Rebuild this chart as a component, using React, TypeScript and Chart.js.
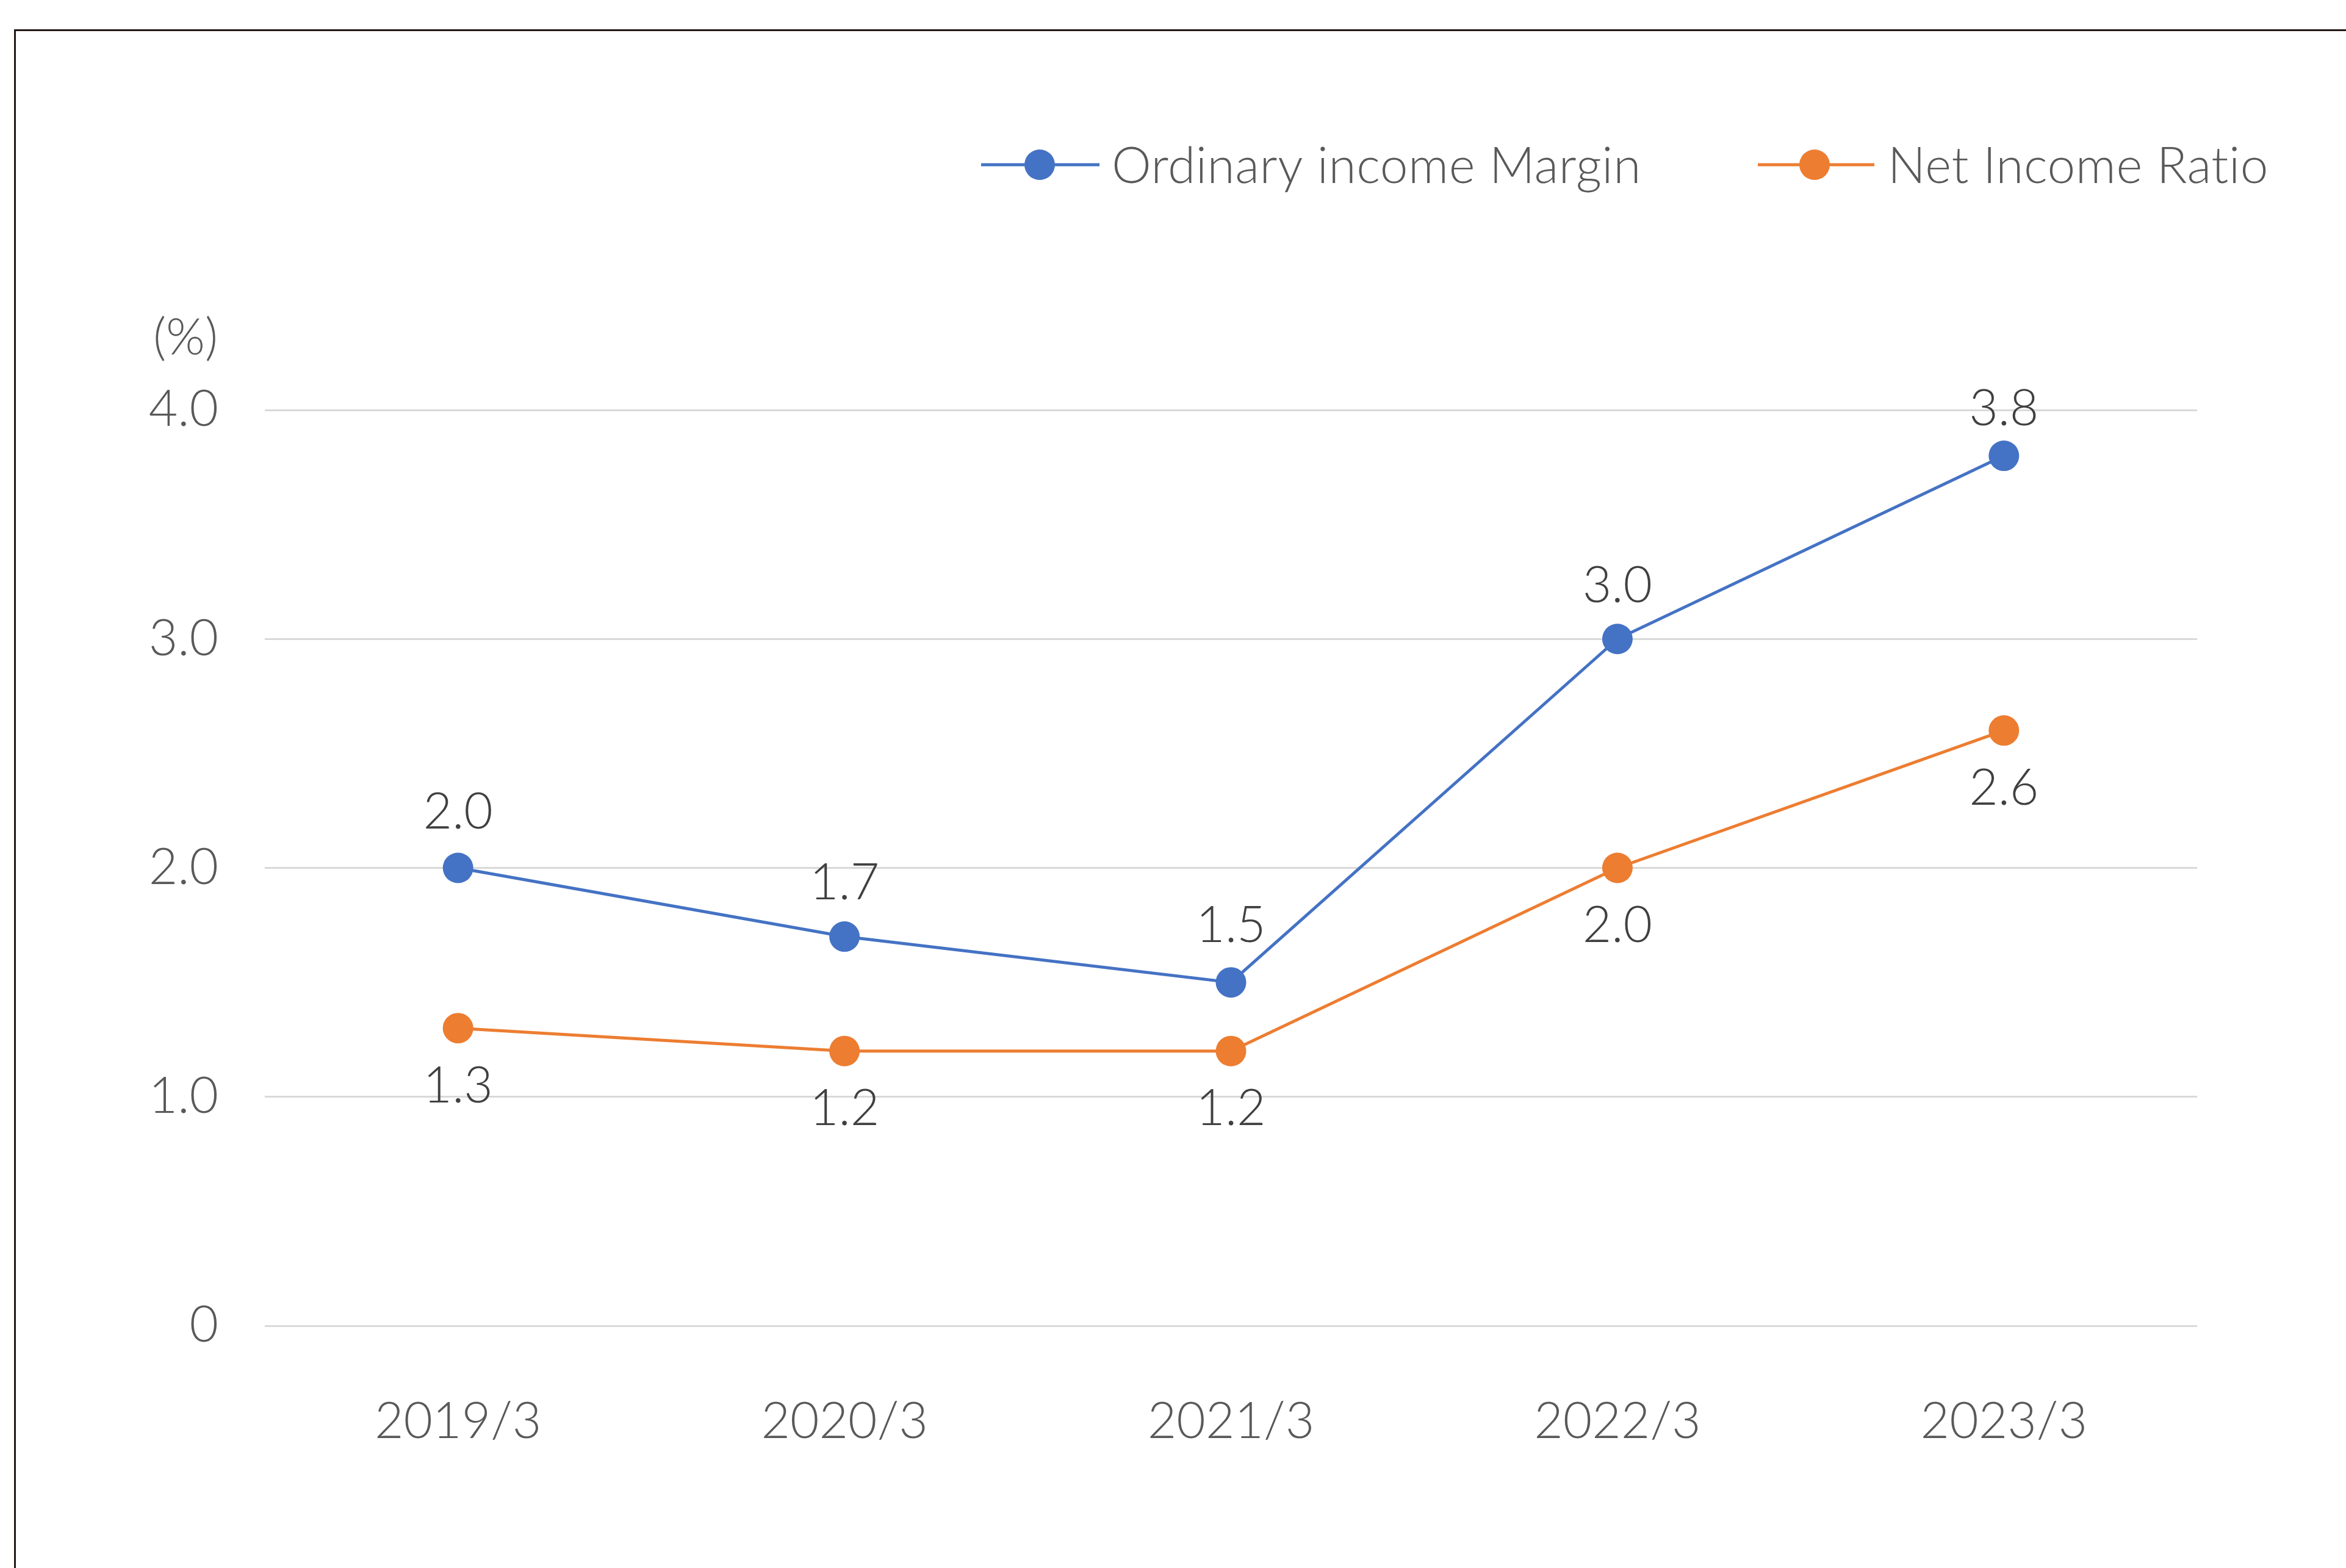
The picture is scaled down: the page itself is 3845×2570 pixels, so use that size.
import React, { useEffect, useRef } from "react";
import { Chart, registerables } from "chart.js";

Chart.register(...registerables);

const categories = ["2019/3", "2020/3", "2021/3", "2022/3", "2023/3"];
const ordinaryIncomeMargin = [2.0, 1.7, 1.5, 3.0, 3.8];
const netIncomeRatio = [1.3, 1.2, 1.2, 2.0, 2.6];
const seriesNames = ["Ordinary income Margin", "Net Income Ratio"];
const unitLabel = "(%)";
const yMin = 0;
const yMax = 4;
const yStep = 1;

const W = 3845;
const H = 2570;
const FONT = 'Lato, "Noto Sans", sans-serif';
const FS = 82;
const BLUE = "#4472C4";
const ORANGE = "#ED7D31";
const TEXT = "#595959";
const LABEL = "#404040";
// vertical label offsets (px from point centre), per series
const LABEL_OFFSETS = [
  [-91, -88, -93, -87, -76],
  [95, 95, 95, 95, 95],
];

const decorPlugin = {
  id: "decor",
  beforeDraw(chart: any) {
    const ctx = chart.ctx;
    ctx.save();
    ctx.fillStyle = "#ffffff";
    ctx.fillRect(0, 0, W, H);
    ctx.strokeStyle = "#231815";
    ctx.lineWidth = 3;
    ctx.beginPath();
    ctx.moveTo(24.5, H);
    ctx.lineTo(24.5, 49.5);
    ctx.lineTo(W, 49.5);
    ctx.stroke();
    ctx.restore();
  },
  afterDraw(chart: any) {
    const ctx = chart.ctx;
    ctx.save();
    ctx.font = `300 ${FS}px ${FONT}`;
    ctx.fillStyle = TEXT;
    ctx.textAlign = "center";
    ctx.textBaseline = "middle";
    ctx.fillText(unitLabel, 304, 555);

    const items = [
      { x0: 1608, x1: 1802, cx: 1704, tx: 1822, color: BLUE, name: seriesNames[0] },
      { x0: 2881, x1: 3072, cx: 2974, tx: 3094, color: ORANGE, name: seriesNames[1] },
    ];
    const ly = 270;
    for (const it of items) {
      ctx.strokeStyle = it.color;
      ctx.lineWidth = 5;
      ctx.beginPath();
      ctx.moveTo(it.x0, ly);
      ctx.lineTo(it.x1, ly);
      ctx.stroke();
      ctx.fillStyle = it.color;
      ctx.beginPath();
      ctx.arc(it.cx, ly, 25, 0, Math.PI * 2);
      ctx.fill();
      ctx.fillStyle = TEXT;
      ctx.textAlign = "left";
      ctx.textBaseline = "middle";
      ctx.font = `300 ${FS}px ${FONT}`;
      try {
        (ctx as any).letterSpacing = "0.6px";
      } catch (e) {}
      ctx.fillText(it.name, it.tx, ly + 4);
      try {
        (ctx as any).letterSpacing = "0px";
      } catch (e) {}
    }
    ctx.restore();
  },
  afterDatasetsDraw(chart: any) {
    const ctx = chart.ctx;
    ctx.save();
    ctx.font = `300 ${FS}px ${FONT}`;
    ctx.fillStyle = LABEL;
    ctx.textAlign = "center";
    ctx.textBaseline = "middle";
    chart.data.datasets.forEach((ds: any, di: number) => {
      const meta = chart.getDatasetMeta(di);
      meta.data.forEach((pt: any, i: number) => {
        const v = ds.data[i];
        ctx.fillText(v.toFixed(1), pt.x, pt.y + LABEL_OFFSETS[di][i]);
      });
    });
    ctx.restore();
  },
};

export default function App() {
  const ref = useRef<HTMLCanvasElement>(null);
  useEffect(() => {
    if (!ref.current) return;
    const chart = new Chart(ref.current, {
      type: "line",
      data: {
        labels: categories,
        datasets: [
          {
            label: seriesNames[0],
            data: ordinaryIncomeMargin,
            borderColor: BLUE,
            backgroundColor: BLUE,
            borderWidth: 5,
            pointRadius: 25,
            pointBorderWidth: 0,
            pointBackgroundColor: BLUE,
            tension: 0,
          },
          {
            label: seriesNames[1],
            data: netIncomeRatio,
            borderColor: ORANGE,
            backgroundColor: ORANGE,
            borderWidth: 5,
            pointRadius: 25,
            pointBorderWidth: 0,
            pointBackgroundColor: ORANGE,
            tension: 0,
          },
        ],
      },
      plugins: [decorPlugin],
      options: {
        animation: false,
        responsive: false,
        devicePixelRatio: 1,
        layout: { padding: { top: 672, right: 244, bottom: 0, left: 0 } },
        plugins: {
          legend: { display: false },
          tooltip: { enabled: false },
          title: { display: false },
        },
        scales: {
          x: {
            type: "category",
            offset: true,
            grid: { display: false },
            border: { display: false },
            ticks: {
              color: TEXT,
              font: { family: FONT, size: FS, weight: "300" },
              padding: 100,
              maxRotation: 0,
              autoSkip: false,
            },
            afterFit(scale: any) {
              scale.height = 397;
            },
          },
          y: {
            min: yMin,
            max: yMax,
            grid: { color: "#d9d9d9", lineWidth: 3, drawTicks: false },
            border: { display: false },
            ticks: {
              stepSize: yStep,
              color: TEXT,
              padding: 76,
              font: { family: FONT, size: FS, weight: "300" },
              callback: (v: any) => (Number(v) === 0 ? "0" : Number(v).toFixed(1)),
            },
            afterFit(scale: any) {
              scale.width = 434;
            },
          },
        },
      },
    });
    return () => chart.destroy();
  }, []);
  return (
    <div style={{ position: "absolute", left: 0, top: 0, width: W, height: H, background: "#fff" }}>
      <canvas ref={ref} width={W} height={H} style={{ width: W, height: H, display: "block" }} />
    </div>
  );
}
